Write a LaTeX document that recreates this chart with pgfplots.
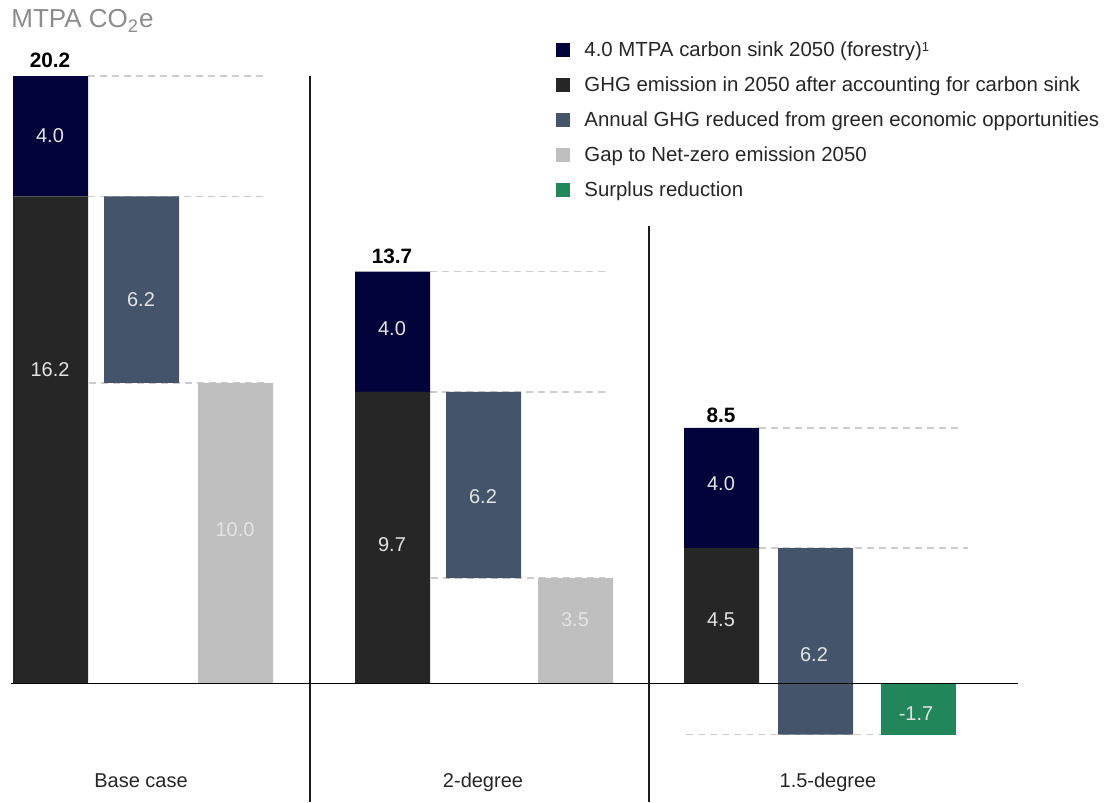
\documentclass[border=0pt]{standalone}
\usepackage{pgfplots}
\pgfplotsset{compat=1.18}
\usepackage{fontspec}
\setmainfont{Liberation Sans}

\definecolor{sinknavy}{HTML}{03033B}
\definecolor{emisdark}{HTML}{262626}
\definecolor{redblue}{HTML}{44546A}
\definecolor{gapgrey}{HTML}{BFBFBF}
\definecolor{surplus}{HTML}{21865A}
\definecolor{dashgrey}{HTML}{CCCCCC}
\definecolor{labcol}{HTML}{E4E4E4}
\definecolor{titlegrey}{HTML}{8C8C8C}
\definecolor{rulecol}{HTML}{1A1A1A}

% page coordinates: 1 unit = 0.5pt, measured from the top-left corner
\newcommand{\pxy}[2]{({(#1)*0.5pt},{(802-(#2))*0.5pt})}
\newcommand{\vallab}{\fontsize{10}{12}\selectfont}
\newcommand{\totlab}{\fontsize{10.4}{12}\selectfont\bfseries}
\newcommand{\leglab}{\fontsize{10.2}{12}\selectfont}
\newcommand{\catlab}{\fontsize{10}{12}\selectfont}

% bar positions (centres) and stacked segments
\pgfplotstableread{
x     offset dark navy blue grey green
50.5  0      16.2 4.0  0    0    0
141.5 10.0   0    0    6.2  0    0
235.5 0      0    0    0    10.0 0
392.5 0      9.7  4.0  0    0    0
483.5 3.5    0    0    6.2  0    0
575.5 0      0    0    0    3.5  0
721.5 0      4.5  4.0  0    0    0
815.5 -1.7   0    0    6.2  0    0
918.5 0      0    0    0    0    -1.7
}\bars

\pgfplotsset{
  frame/.style={
    hide axis, scale only axis, clip=false,
    width=556pt, height=401pt,
    xmin=0, xmax=1112, ymin=-3.941, ymax=22.730,
    at={(0,0)}, anchor=south west,
  },
  guide/.style={dashgrey, line width=0.75pt, dash pattern=on 3.5pt off 2.5pt, forget plot},
}

\begin{document}
\begin{tikzpicture}
% dashed guide lines at the running totals
\begin{axis}[frame]
  \addplot[guide] coordinates {(88,20.2) (267,20.2)};
  \addplot[guide] coordinates {(88,16.2) (268,16.2)};
  \addplot[guide] coordinates {(89,10.0) (268,10.0)};
  \addplot[guide] coordinates {(430,13.7) (608,13.7)};
  \addplot[guide] coordinates {(430,9.7) (608,9.7)};
  \addplot[guide] coordinates {(431,3.5) (605,3.5)};
  \addplot[guide] coordinates {(759,8.5) (962,8.5)};
  \addplot[guide] coordinates {(759,4.5) (968,4.5)};
  \addplot[guide] coordinates {(686,-1.7) (955,-1.7)};
\end{axis}
% waterfall bars
\begin{axis}[frame, ybar stacked, stack negative=on previous, bar width=75]
  \addplot[draw=none, fill=none] table[x=x, y=offset] {\bars};
  \addplot[draw=none, fill=emisdark] table[x=x, y=dark] {\bars};
  \addplot[draw=none, fill=sinknavy] table[x=x, y=navy] {\bars};
  \addplot[draw=none, fill=redblue] table[x=x, y=blue] {\bars};
  \addplot[draw=none, fill=gapgrey] table[x=x, y=grey] {\bars};
  \addplot[draw=none, fill=surplus] table[x=x, y=green] {\bars};
\end{axis}
% zero line and scenario dividers
\begin{axis}[frame]
  \addplot[black, line width=0.75pt] coordinates {(11,0) (1018,0)};
  \addplot[rulecol, line width=1pt] coordinates {(310,20.2) (310,-3.941)};
  \addplot[rulecol, line width=1pt] coordinates {(649,15.2) (649,-3.941)};
\end{axis}

% title
\node[anchor=base west, text=titlegrey, font=\fontsize{13}{15}\selectfont, inner sep=0pt]
  at \pxy{11}{28} {MTPA CO\textsubscript{2}e};

% totals
\node[anchor=base, font=\totlab, inner sep=0pt] at \pxy{50}{68} {20.2};
\node[anchor=base, font=\totlab, inner sep=0pt] at \pxy{392}{264} {13.7};
\node[anchor=base, font=\totlab, inner sep=0pt] at \pxy{721}{423} {8.5};

% segment values
\begin{scope}[every node/.style={anchor=base, font=\vallab, text=labcol, inner sep=0pt}]
  \node at \pxy{50}{143} {4.0};
  \node at \pxy{50}{377} {16.2};
  \node at \pxy{141}{307} {6.2};
  \node at \pxy{235}{537} {10.0};
  \node at \pxy{392}{336} {4.0};
  \node at \pxy{392}{552} {9.7};
  \node at \pxy{483}{504} {6.2};
  \node at \pxy{575}{627} {3.5};
  \node at \pxy{721}{491} {4.0};
  \node at \pxy{721}{627} {4.5};
  \node at \pxy{814}{662} {6.2};
  \node at \pxy{916}{721} {-1.7};
\end{scope}

% scenario names
\begin{scope}[every node/.style={anchor=base, font=\catlab, text=emisdark, inner sep=0pt}]
  \node at \pxy{141}{787} {Base case};
  \node at \pxy{483}{787} {2-degree};
  \node at \pxy{828}{788} {1.5-degree};
\end{scope}

% legend
\foreach \c/\col/\txt in {
    50/sinknavy/{4.0 MTPA carbon sink 2050 (forestry)\raisebox{0.45ex}{\fontsize{6.5}{7}\selectfont 1}},
    85/emisdark/{GHG emission in 2050 after accounting for carbon sink},
    120/redblue/{Annual GHG reduced from green economic opportunities},
    155/gapgrey/{Gap to Net-zero emission 2050},
    190/surplus/{Surplus reduction}} {
  \fill[\col] \pxy{556}{\c-7} rectangle \pxy{570}{\c+7};
  \node[anchor=base west, font=\leglab, text=emisdark, inner sep=0pt] at \pxy{584}{\c+6.7} {\txt};
}

\pgfresetboundingbox
\useasboundingbox (0,0) rectangle (556pt,401pt);
\end{tikzpicture}
\end{document}
